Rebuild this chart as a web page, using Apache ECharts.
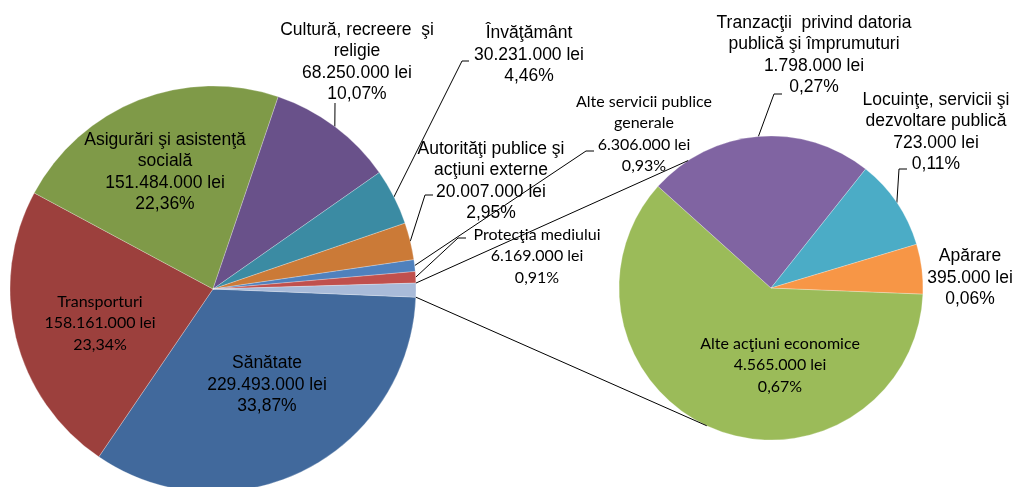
<!DOCTYPE html>
<html><head><meta charset="utf-8">
<script src="https://cdn.jsdelivr.net/npm/echarts@6/dist/echarts.min.js"></script>
<style>html,body{margin:0;padding:0;background:#fff}#c{width:1016px;height:487px}</style>
</head><body><div id="c"></div>
<script>
// ---- data ----
const mainNames = ['Sănătate', 'Transporturi', 'Asigurări şi asistenţă\nsocială', 'Cultură, recreere  şi\nreligie', 'Învăţământ', 'Autorităţi publice şi\nacţiuni externe', 'Alte servicii publice\ngenerale', 'Protecţia mediului'];
const mainValues = [229493000, 158161000, 151484000, 68250000, 30231000, 20007000, 6306000, 6169000];
const subNames = ['Alte acţiuni economice', 'Tranzacţii  privind datoria\npublică şi împrumuturi', 'Locuinţe, servicii şi\ndezvoltare publică', 'Apărare'];
const subValues = [4565000, 1798000, 723000, 395000];
const otherName = 'Altele';

// ---- styles / layout ----
const mainColors = ['#41699C', '#9C403D', '#7F9A48', '#69518A', '#3B8BA3', '#CB7A37', '#4F81BD', '#C0504D', '#A9BBD9'];
const subColors = ['#9BBB59', '#8064A2', '#4BACC6', '#F79646'];
const mainFontKind = ['A', 'C', 'A', 'A', 'A', 'A', 'C', 'C'];
const subFontKind = ['C', 'A', 'A', 'A'];
const mainLabelPos = [[267, 385], [100, 323], [165, 172], [357, 62], [529, 55], [491, 181], [644, 134], [537, 256]];
const mainLeader = [null, null, null, [[335, 103]], [[462, 61], [469, 61]], [[425, 195], [433, 195]], [[586, 151], [594, 151]], [[458, 238], [466, 238]]];
const subLabelPos = [[780, 365], [814, 55], [936, 132], [970, 278]];
const subLeader = [null, [[774, 94], [782, 94]], [[899, 169], [907, 169]], null];
const mainCenter = [213, 289], mainR = 203, mainStart = 357.7;
const subCenter = [771, 288], subR = 152, subStart = 357.7;
const connAngles = [123, -115];

const otherValue = subValues.reduce((a, b) => a + b, 0);
const grand = mainValues.reduce((a, b) => a + b, 0) + otherValue;

function fmtNum(v) { return String(v).replace(/\B(?=(\d{3})+(?!\d))/g, '.'); }
function fmtPct(v) { return (v / grand * 100).toFixed(2).replace('.', ',') + '%'; }
function fontFor(k) {
  return k === 'A' ? { fontFamily: 'Liberation Sans, Arial', fontSize: 17.5, lineHeight: 21.5 }
                   : { fontFamily: 'Lato', fontSize: 16, lineHeight: 21.5 };
}

const mainData = mainValues.map((v, i) => ({
  name: mainNames[i], value: v,
  itemStyle: { color: mainColors[i] },
  label: Object.assign({ show: true, color: '#000' }, fontFor(mainFontKind[i])),
  labelLine: { show: !!mainLeader[i] }
}));
mainData.push({ name: otherName, value: otherValue, itemStyle: { color: mainColors[8] }, label: { show: false }, labelLine: { show: false } });

const subData = subValues.map((v, i) => ({
  name: subNames[i], value: v,
  itemStyle: { color: subColors[i] },
  label: Object.assign({ show: true, color: '#000' }, fontFor(subFontKind[i])),
  labelLine: { show: !!subLeader[i] }
}));

function makeLayout(posArr, leadArr) {
  return function (p) {
    const i = p.dataIndex;
    const pos = posArr[i];
    if (!pos) return {};
    const r = { x: pos[0], y: pos[1], align: 'center', verticalAlign: 'middle' };
    if (leadArr[i] && p.labelLinePoints) {
      const pts = [p.labelLinePoints[0].slice()].concat(leadArr[i].map(q => q.slice()));
      if (pts.length === 2) pts.push(pts[1].slice());
      r.labelLinePoints = pts;
    }
    return r;
  };
}

function pt(c, R, deg) {
  const a = deg * Math.PI / 180;
  return [c[0] + R * Math.cos(a), c[1] - R * Math.sin(a)];
}
const topMain = pt(mainCenter, mainR, mainStart + 360 * otherValue / grand);
const botMain = pt(mainCenter, mainR, mainStart);
const topSub = pt(subCenter, subR, connAngles[0]);
const botSub = pt(subCenter, subR, connAngles[1]);

const labelFmt = p => p.name + '\n' + fmtNum(p.value) + ' lei\n' + fmtPct(p.value);

const chart = echarts.init(document.getElementById('c'), null, { renderer: 'canvas' });
chart.setOption({
  backgroundColor: '#fff',
  animation: false,
  graphic: [
    { type: 'line', shape: { x1: topMain[0], y1: topMain[1], x2: topSub[0], y2: topSub[1] }, style: { stroke: '#000', lineWidth: 1 }, z: 10 },
    { type: 'line', shape: { x1: botMain[0], y1: botMain[1], x2: botSub[0], y2: botSub[1] }, style: { stroke: '#000', lineWidth: 1 }, z: 10 }
  ],
  series: [
    {
      type: 'pie', center: mainCenter, radius: mainR, startAngle: mainStart, clockwise: true,
      avoidLabelOverlap: false, data: mainData,
      itemStyle: { borderColor: 'rgba(255,255,255,0.5)', borderWidth: 0.5 },
      label: { position: 'outside', formatter: labelFmt, align: 'center' },
      labelLine: { lineStyle: { color: '#000', width: 1 }, length: 10, length2: 5 },
      emphasis: { disabled: true },
      labelLayout: makeLayout(mainLabelPos, mainLeader)
    },
    {
      type: 'pie', center: subCenter, radius: subR, startAngle: subStart, clockwise: true,
      avoidLabelOverlap: false, data: subData,
      itemStyle: { borderColor: 'rgba(255,255,255,0.5)', borderWidth: 0.5 },
      label: { position: 'outside', formatter: labelFmt, align: 'center' },
      labelLine: { lineStyle: { color: '#000', width: 1 }, length: 10, length2: 5 },
      emphasis: { disabled: true },
      labelLayout: makeLayout(subLabelPos, subLeader)
    }
  ]
});
</script>
</body></html>
